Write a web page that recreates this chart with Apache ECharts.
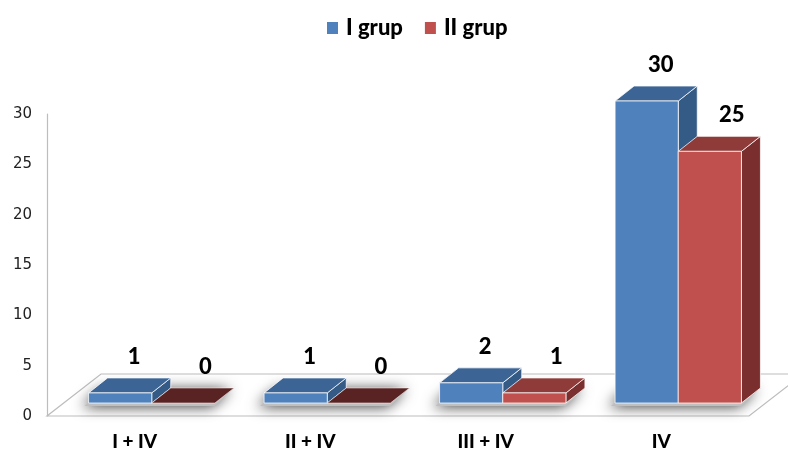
<!DOCTYPE html>
<html>
<head>
<meta charset="utf-8">
<script src="https://cdn.jsdelivr.net/npm/echarts@6/dist/echarts.min.js"></script>
<style>
  html, body { margin: 0; padding: 0; background: #ffffff; }
  #chart { width: 788px; height: 451px; }
</style>
</head>
<body>
<div id="chart"></div>
<script>
// Categories and values per group
const categories = ['I + IV', 'II + IV', 'III + IV', 'IV'];
const grupI = [1, 1, 2, 30];
const grupII = [0, 0, 1, 25];
const seriesNames = ['I grup', 'II grup'];
const valueTicks = { min: 0, max: 30, interval: 5 };

// 3D look: floor depth and bar depth offsets (pixels)
const FLOOR_DX = 54, FLOOR_DY = 42;
const FRONT_DX = 17, FRONT_DY = 13;   // bar front plane behind the floor front edge
const BAR_DX = 19, BAR_DY = 15;       // bar depth
const BAR_RATIO = 0.36;               // bar width as share of category band
const LABEL_SHIFT = [14, 22];         // value label shift from front-face centre

const TEXT_FONT = 'Lato, "Liberation Sans", sans-serif';

const palette = [
  { front: '#4f81bd', top: '#3c6595', side: '#345a86', zero: '#2f4f78' },
  { front: '#c0504d', top: '#8f3b39', side: '#7a2f2e', zero: '#5a2323' }
];

function barGeom(api, sIdx) {
  const i = api.value(0), v = api.value(1);
  const base = api.coord([i, 0]);
  const top = api.coord([i, v]);
  const bw = api.size([1, 0])[0] * BAR_RATIO;
  const jx = base[0] + FRONT_DX;
  const x0 = sIdx === 0 ? jx - bw : jx;
  return { v, x0, x1: x0 + bw, yb: base[1] - FRONT_DY, yt: top[1] - FRONT_DY };
}

function makeBarRender(sIdx) {
  const c = palette[sIdx];
  const edge = 'rgba(255,255,255,0.75)';
  return function (params, api) {
    const g = barGeom(api, sIdx);
    const { x0, x1, yb, yt } = g;
    const children = [];
    const topPts = [[x0, yt], [x1, yt], [x1 + BAR_DX, yt - BAR_DY], [x0 + BAR_DX, yt - BAR_DY]];
    if (g.v === 0) {
      children.push({ type: 'polygon', shape: { points: topPts },
        style: { fill: c.zero, stroke: 'rgba(255,255,255,0.5)', lineWidth: 1 } });
    } else {
      children.push({ type: 'polygon', shape: { points: [[x1, yt], [x1, yb], [x1 + BAR_DX, yb - BAR_DY], [x1 + BAR_DX, yt - BAR_DY]] },
        style: { fill: c.side, stroke: edge, lineWidth: 1 } });
      children.push({ type: 'polygon', shape: { points: topPts },
        style: { fill: c.top, stroke: edge, lineWidth: 1 } });
      children.push({ type: 'rect', shape: { x: x0, y: yt, width: x1 - x0, height: yb - yt },
        style: { fill: c.front, stroke: edge, lineWidth: 1 } });
    }
    children.push({ type: 'text', z2: 10,
      style: { text: String(g.v), x: (x0 + x1) / 2 + LABEL_SHIFT[sIdx], y: yt - BAR_DY - 21,
        align: 'center', verticalAlign: 'middle',
        font: '900 22px ' + TEXT_FONT, fill: '#000000' } });
    return { type: 'group', children };
  };
}

// floor slab under the bars
function renderFloor(params, api) {
  const cs = params.coordSys;
  const y0 = api.coord([0, 0])[1];
  const xl = cs.x, xr = cs.x + cs.width;
  return {
    type: 'polygon',
    shape: { points: [[xl, y0], [xr, y0], [xr + FLOOR_DX, y0 - FLOOR_DY], [xl + FLOOR_DX, y0 - FLOOR_DY]] },
    style: { fill: '#ffffff', stroke: '#bdbdbd', lineWidth: 1.2 }
  };
}

// soft shadow around each pair of bars
function renderShadow(params, api) {
  const i = api.value(0);
  const base = api.coord([i, 0]);
  const bw = api.size([1, 0])[0] * BAR_RATIO;
  const jx = base[0] + FRONT_DX, yb = base[1] - FRONT_DY;
  return {
    type: 'polygon',
    shape: { points: [[jx - bw - 4, yb + 3], [jx + bw, yb + 3], [jx + bw + BAR_DX, yb - BAR_DY], [jx - bw + BAR_DX - 4, yb - BAR_DY]] },
    style: { fill: '#bfbfbf', shadowBlur: 14, shadowColor: 'rgba(0,0,0,0.75)', shadowOffsetX: -3, shadowOffsetY: 1 }
  };
}

const chart = echarts.init(document.getElementById('chart'));
chart.setOption({
  animation: false,
  backgroundColor: '#ffffff',
  legend: {
    data: seriesNames,
    left: 322, top: 12,
    icon: 'rect', itemWidth: 11, itemHeight: 12, itemGap: 22,
    textStyle: { fontFamily: TEXT_FONT, fontWeight: 900, fontSize: 22, color: '#000', padding: [0, 0, 0, 3] }
  },
  grid: { left: 47, right: 39, top: 114, bottom: 34, containLabel: false },
  xAxis: {
    type: 'category', data: categories,
    axisLine: { show: false }, axisTick: { show: false },
    axisLabel: { margin: 16, lineHeight: 19, fontFamily: TEXT_FONT, fontWeight: 900, fontSize: 19, color: '#000' }
  },
  yAxis: {
    type: 'value', min: valueTicks.min, max: valueTicks.max, interval: valueTicks.interval,
    axisLine: { show: true, lineStyle: { color: '#bdbdbd', width: 1.2 } },
    axisTick: { show: false }, splitLine: { show: false },
    axisLabel: { margin: 15, fontFamily: '"DejaVu Sans", Verdana, sans-serif', fontSize: 15, color: '#222' }
  },
  series: [
    { type: 'custom', name: 'floor', z: 1, silent: true, renderItem: renderFloor, data: [[0, 0]], encode: { x: 0, y: 1 } },
    { type: 'custom', name: 'shadow', z: 2, silent: true, renderItem: renderShadow, data: categories.map((c, i) => [i, 0]), encode: { x: 0, y: 1 } },
    { type: 'custom', name: seriesNames[0], z: 3, itemStyle: { color: palette[0].front }, renderItem: makeBarRender(0),
      data: grupI.map((v, i) => [i, v]), encode: { x: 0, y: 1 } },
    { type: 'custom', name: seriesNames[1], z: 3, itemStyle: { color: palette[1].front }, renderItem: makeBarRender(1),
      data: grupII.map((v, i) => [i, v]), encode: { x: 0, y: 1 } }
  ]
});
</script>
</body>
</html>
